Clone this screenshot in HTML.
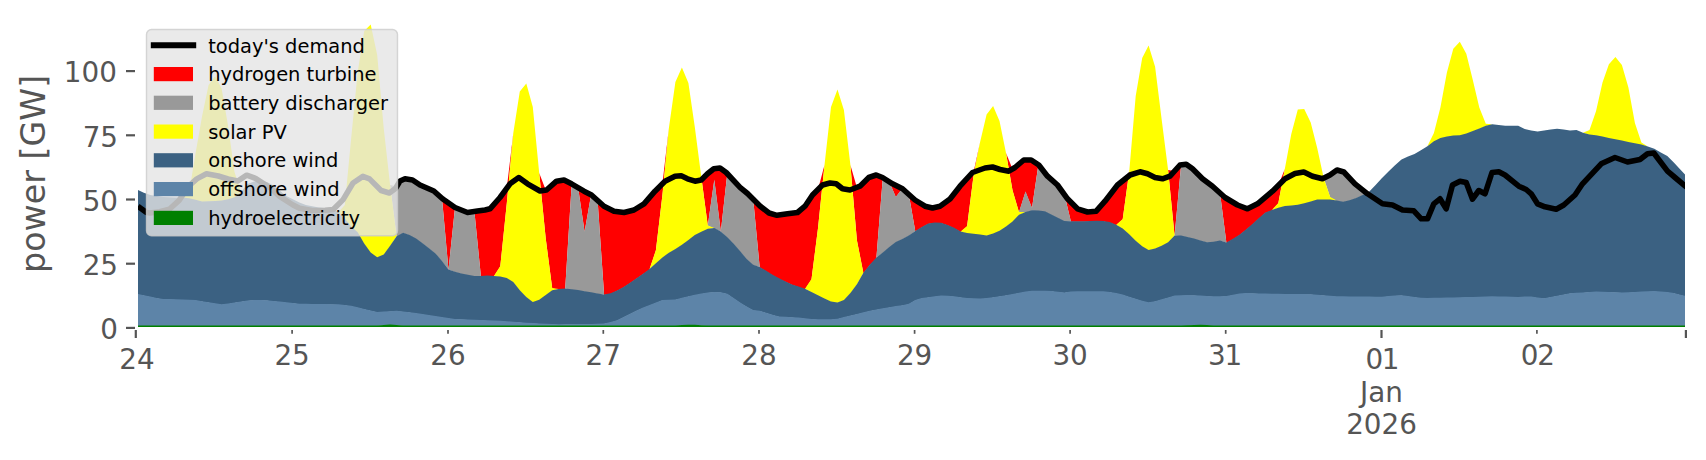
<!DOCTYPE html>
<html><head><meta charset="utf-8"><title>power chart</title>
<style>html,body{margin:0;padding:0;background:#fff;}svg{display:block;}</style></head>
<body>
<svg width="1706" height="460" viewBox="0 0 1706 460" font-family="'DejaVu Sans', 'Liberation Sans', sans-serif">
<rect width="1706" height="460" fill="#fff"/>
<defs><clipPath id="cp"><rect x="137.9" y="0" width="1547.2" height="340"/></clipPath></defs>
<g clip-path="url(#cp)">
<polygon fill="#ff0000" points="442.0,198.3 448.5,202.9 455.0,207.5 455.0,207.5 448.5,270.2 442.0,198.3"/>
<polygon fill="#ff0000" points="474.4,211.5 480.9,210.5 487.4,209.4 493.9,204.4 500.3,197.0 506.8,188.1 513.3,133.0 513.3,133.0 506.8,203.6 500.3,266.6 493.9,276.6 487.4,276.1 480.9,276.5 474.4,211.5"/>
<polygon fill="#ff0000" points="539.2,173.0 545.7,190.1 552.2,185.0 558.7,180.9 565.2,180.6 571.7,183.8 571.7,183.8 565.2,289.2 558.7,289.5 552.2,288.6 545.7,238.6 539.2,173.0"/>
<polygon fill="#ff0000" points="578.1,187.7 584.6,191.6 591.1,194.8 591.1,194.8 584.6,232.0 578.1,187.7"/>
<polygon fill="#ff0000" points="597.6,200.5 604.1,206.3 610.6,209.5 617.0,211.6 623.5,212.4 630.0,211.0 636.5,208.4 643.0,204.4 649.5,197.5 655.9,190.3 662.4,183.8 668.9,128.0 668.9,128.0 662.4,195.6 655.9,250.6 649.5,269.7 643.0,274.3 636.5,278.8 630.0,283.3 623.5,287.6 617.0,291.1 610.6,293.9 604.1,295.0 597.6,200.5"/>
<polygon fill="#ff0000" points="701.3,177.0 707.8,173.5 714.3,168.7 720.8,168.6 727.3,173.6 727.3,173.6 720.8,232.1 714.3,180.0 707.8,226.1 701.3,177.0"/>
<polygon fill="#ff0000" points="753.2,199.2 759.7,205.7 766.2,210.8 772.6,214.0 779.1,215.0 785.6,214.0 792.1,213.2 798.6,211.6 805.0,206.2 811.5,196.5 818.0,189.5 824.5,165.0 824.5,165.0 818.0,228.6 811.5,279.6 805.0,289.4 798.6,287.2 792.1,285.0 785.6,282.1 779.1,278.9 772.6,275.4 766.2,271.4 759.7,267.6 753.2,199.2"/>
<polygon fill="#ff0000" points="850.4,165.0 856.9,187.4 863.4,182.9 869.9,177.1 876.4,175.0 882.8,177.7 882.8,177.7 876.4,258.2 869.9,265.1 863.4,273.4 856.9,240.6 850.4,165.0"/>
<polygon fill="#ff0000" points="889.3,181.8 895.8,185.4 902.3,188.6 902.3,188.6 895.8,197.3 889.3,181.8"/>
<polygon fill="#ff0000" points="908.8,194.4 915.3,200.2 921.7,204.2 928.2,207.0 934.7,207.5 941.2,205.4 947.7,200.7 954.2,193.7 960.6,185.5 967.1,178.4 973.6,172.1 980.1,142.0 980.1,142.0 973.6,175.6 967.1,226.6 960.6,232.1 954.2,228.4 947.7,225.5 941.2,223.3 934.7,223.0 928.2,224.1 921.7,227.5 915.3,231.6 908.8,194.4"/>
<polygon fill="#ff0000" points="1006.0,153.0 1012.5,169.0 1019.0,164.1 1025.5,160.0 1032.0,160.5 1038.4,164.8 1038.4,164.8 1032.0,208.3 1025.5,191.9 1019.0,212.6 1012.5,190.6 1006.0,153.0"/>
<polygon fill="#ff0000" points="1064.4,194.4 1070.9,202.1 1077.3,208.6 1083.8,210.8 1090.3,211.8 1096.8,210.6 1103.3,203.2 1109.8,195.1 1116.2,186.6 1122.7,180.8 1129.2,172.0 1129.2,172.0 1122.7,219.6 1116.2,225.3 1109.8,222.7 1103.3,221.6 1096.8,221.3 1090.3,221.6 1083.8,221.8 1077.3,221.8 1070.9,221.8 1064.4,194.4"/>
<polygon fill="#ff0000" points="1168.1,170.0 1174.6,171.1 1181.1,164.9 1181.1,164.9 1174.6,236.1 1168.1,170.0"/>
<polygon fill="#ff0000" points="1220.0,193.0 1226.4,198.4 1232.9,202.3 1239.4,205.7 1245.9,208.1 1252.4,206.3 1258.9,202.6 1265.3,197.2 1271.8,191.8 1278.3,185.4 1284.8,169.0 1284.8,169.0 1278.3,203.6 1271.8,210.7 1265.3,213.0 1258.9,218.7 1252.4,224.7 1245.9,230.1 1239.4,235.3 1232.9,239.4 1226.4,243.0 1220.0,193.0"/>
<polygon fill="#999999" points="390.1,185.0 396.6,186.6 403.1,179.6 409.6,179.5 416.1,182.4 422.6,186.1 429.0,188.9 435.5,192.6 442.0,198.3 448.5,269.6 448.5,269.6 442.0,261.6 435.5,254.0 429.0,248.8 422.6,243.8 416.1,239.2 409.6,235.6 403.1,233.3 396.6,236.9 390.1,185.0"/>
<polygon fill="#999999" points="448.5,269.6 455.0,207.5 461.4,210.1 467.9,212.4 474.4,211.5 480.9,275.9 480.9,275.9 474.4,276.7 467.9,275.4 461.4,274.1 455.0,272.3 448.5,269.6"/>
<polygon fill="#999999" points="565.2,288.6 571.7,183.8 578.1,187.7 584.6,231.4 591.1,194.8 597.6,200.5 604.1,294.4 604.1,294.4 597.6,294.0 591.1,292.9 584.6,291.8 578.1,290.7 571.7,289.9 565.2,288.6"/>
<polygon fill="#999999" points="707.8,225.5 714.3,179.4 720.8,231.5 720.8,231.5 714.3,228.7 707.8,225.5"/>
<polygon fill="#999999" points="720.8,231.5 727.3,173.6 733.7,180.6 740.2,187.5 746.7,192.8 753.2,199.2 759.7,267.0 759.7,267.0 753.2,265.3 746.7,259.6 740.2,251.9 733.7,244.3 727.3,237.9 720.8,231.5"/>
<polygon fill="#999999" points="876.4,257.6 882.8,177.7 889.3,181.8 895.8,196.7 902.3,188.6 908.8,194.4 915.3,231.0 915.3,231.0 908.8,236.0 902.3,239.5 895.8,242.7 889.3,247.7 882.8,253.0 876.4,257.6"/>
<polygon fill="#999999" points="1019.0,212.0 1025.5,191.3 1032.0,207.7 1038.4,164.8 1044.9,172.9 1051.4,179.7 1057.9,185.5 1064.4,194.4 1070.9,221.2 1070.9,221.2 1064.4,221.5 1057.9,218.3 1051.4,215.1 1044.9,211.8 1038.4,211.2 1032.0,210.8 1025.5,212.7 1019.0,212.0"/>
<polygon fill="#999999" points="1174.6,235.5 1181.1,164.9 1187.5,165.2 1194.0,170.3 1200.5,176.8 1207.0,182.1 1213.5,187.1 1220.0,193.0 1226.4,242.4 1226.4,242.4 1220.0,241.0 1213.5,242.4 1207.0,242.8 1200.5,241.0 1194.0,239.2 1187.5,237.5 1181.1,236.2 1174.6,235.5"/>
<polygon fill="#999999" points="1323.7,178.0 1330.2,174.9 1336.7,170.2 1343.1,171.8 1349.6,178.1 1356.1,184.6 1362.6,189.8 1369.1,191.7 1369.1,191.7 1362.6,195.6 1356.1,198.6 1349.6,200.9 1343.1,202.3 1336.7,201.2 1330.2,197.6 1323.7,178.0"/>
<polygon fill="#ffff00" points="182.7,197.5 189.2,192.0 195.6,153.0 202.1,116.0 208.6,85.0 215.1,76.3 221.6,88.5 228.1,126.0 234.5,172.0 241.0,191.9 241.0,191.9 234.5,197.8 228.1,199.8 221.6,201.1 215.1,201.5 208.6,201.8 202.1,202.0 195.6,200.4 189.2,198.9 182.7,197.5"/>
<polygon fill="#ffff00" points="338.3,212.2 344.8,205.0 351.2,138.0 357.7,72.0 364.2,31.0 370.7,24.5 377.2,55.0 383.7,128.0 390.1,185.0 396.6,236.3 396.6,236.3 390.1,246.4 383.7,255.1 377.2,257.9 370.7,253.2 364.2,244.2 357.7,232.9 351.2,227.0 344.8,219.2 338.3,212.2"/>
<polygon fill="#ffff00" points="493.9,276.0 500.3,266.0 506.8,203.0 513.3,133.0 519.8,91.5 526.3,83.5 532.8,107.0 539.2,173.0 545.7,238.0 552.2,288.0 558.7,288.9 558.7,288.9 552.2,290.8 545.7,295.7 539.2,300.4 532.8,302.5 526.3,297.5 519.8,290.9 513.3,282.6 506.8,278.6 500.3,277.2 493.9,276.0"/>
<polygon fill="#ffff00" points="649.5,269.1 655.9,250.0 662.4,195.0 668.9,128.0 675.4,82.0 681.9,67.5 688.4,83.0 694.8,127.0 701.3,177.0 707.8,225.5 714.3,228.1 714.3,228.1 707.8,229.3 701.3,232.4 694.8,235.7 688.4,240.6 681.9,245.4 675.4,249.5 668.9,253.3 662.4,258.0 655.9,263.9 649.5,269.1"/>
<polygon fill="#ffff00" points="805.0,288.8 811.5,279.0 818.0,228.0 824.5,165.0 831.0,107.0 837.5,89.5 843.9,110.0 850.4,165.0 856.9,240.0 863.4,272.8 863.4,272.8 856.9,284.8 850.4,293.6 843.9,300.5 837.5,303.1 831.0,302.0 824.5,299.1 818.0,295.9 811.5,292.6 805.0,288.8"/>
<polygon fill="#ffff00" points="960.6,231.5 967.1,226.0 973.6,175.0 980.1,142.0 986.6,114.5 993.1,106.0 999.5,121.0 1006.0,153.0 1012.5,190.0 1019.0,212.0 1025.5,212.1 1025.5,212.1 1019.0,215.4 1012.5,222.0 1006.0,227.1 999.5,231.3 993.1,234.2 986.6,236.0 980.1,235.2 973.6,234.4 967.1,233.7 960.6,231.5"/>
<polygon fill="#ffff00" points="1116.2,224.7 1122.7,219.0 1129.2,172.0 1135.7,96.0 1142.2,58.0 1148.6,45.5 1155.1,66.8 1161.6,119.0 1168.1,170.0 1174.6,235.5 1174.6,235.5 1168.1,242.9 1161.6,246.4 1155.1,249.1 1148.6,250.5 1142.2,246.8 1135.7,241.3 1129.2,234.8 1122.7,229.2 1116.2,224.7"/>
<polygon fill="#ffff00" points="1271.8,210.1 1278.3,203.0 1284.8,169.0 1291.3,134.0 1297.8,109.5 1304.2,109.0 1310.7,122.5 1317.2,148.0 1323.7,178.0 1330.2,197.0 1336.7,200.6 1336.7,200.6 1330.2,200.1 1323.7,200.1 1317.2,200.2 1310.7,202.0 1304.2,203.9 1297.8,205.3 1291.3,206.0 1284.8,206.6 1278.3,208.3 1271.8,210.1"/>
<polygon fill="#ffff00" points="1427.4,146.3 1433.9,133.0 1440.4,107.5 1446.9,72.5 1453.3,48.8 1459.8,41.8 1466.3,53.8 1472.8,80.0 1479.3,107.5 1485.8,123.8 1492.2,124.2 1492.2,124.2 1485.8,126.3 1479.3,129.0 1472.8,131.7 1466.3,134.2 1459.8,135.9 1453.3,136.1 1446.9,137.0 1440.4,138.7 1433.9,141.9 1427.4,146.3"/>
<polygon fill="#ffff00" points="1583.0,132.7 1589.5,130.0 1596.0,111.2 1602.5,82.5 1608.9,64.2 1615.4,57.0 1621.9,65.0 1628.4,87.5 1634.9,123.0 1641.4,142.5 1647.8,146.6 1647.8,146.6 1641.4,145.2 1634.9,143.9 1628.4,142.5 1621.9,141.2 1615.4,139.9 1608.9,138.5 1602.5,137.2 1596.0,135.8 1589.5,135.0 1583.0,132.7"/>
<polygon fill="#3b6182" points="137.3,189.6 143.8,192.8 150.3,194.9 156.7,196.0 163.2,197.1 169.7,197.2 176.2,197.4 182.7,197.5 189.2,198.3 195.6,199.8 202.1,201.4 208.6,201.2 215.1,200.9 221.6,200.5 228.1,199.2 234.5,197.2 241.0,191.9 247.5,183.9 254.0,181.6 260.5,180.8 267.0,182.0 273.4,185.5 279.9,190.7 286.4,195.9 292.9,199.3 299.4,202.5 305.9,205.0 312.3,206.3 318.8,207.6 325.3,207.9 331.8,208.1 338.3,212.2 344.8,218.6 351.2,226.4 357.7,232.3 364.2,243.6 370.7,252.6 377.2,257.3 383.7,254.5 390.1,245.8 396.6,236.3 403.1,232.7 409.6,235.0 416.1,238.6 422.6,243.2 429.0,248.2 435.5,253.4 442.0,261.0 448.5,269.6 455.0,271.7 461.4,273.5 467.9,274.8 474.4,276.1 480.9,275.9 487.4,275.5 493.9,276.0 500.3,276.6 506.8,278.0 513.3,282.0 519.8,290.3 526.3,296.9 532.8,301.9 539.2,299.8 545.7,295.1 552.2,290.2 558.7,288.9 565.2,288.6 571.7,289.3 578.1,290.1 584.6,291.2 591.1,292.3 597.6,293.4 604.1,294.4 610.6,293.3 617.0,290.5 623.5,287.0 630.0,282.7 636.5,278.2 643.0,273.7 649.5,269.1 655.9,263.3 662.4,257.4 668.9,252.7 675.4,248.9 681.9,244.8 688.4,240.0 694.8,235.1 701.3,231.8 707.8,228.7 714.3,228.1 720.8,231.5 727.3,237.3 733.7,243.7 740.2,251.3 746.7,259.0 753.2,264.7 759.7,267.0 766.2,270.8 772.6,274.8 779.1,278.3 785.6,281.5 792.1,284.4 798.6,286.6 805.0,288.8 811.5,292.0 818.0,295.3 824.5,298.5 831.0,301.4 837.5,302.5 843.9,299.9 850.4,293.0 856.9,284.2 863.4,272.8 869.9,264.5 876.4,257.6 882.8,252.4 889.3,247.1 895.8,242.1 902.3,238.9 908.8,235.4 915.3,231.0 921.7,226.9 928.2,223.5 934.7,222.4 941.2,222.7 947.7,224.9 954.2,227.8 960.6,231.5 967.1,233.1 973.6,233.8 980.1,234.6 986.6,235.4 993.1,233.6 999.5,230.7 1006.0,226.5 1012.5,221.4 1019.0,214.8 1025.5,212.1 1032.0,210.2 1038.4,210.6 1044.9,211.2 1051.4,214.5 1057.9,217.7 1064.4,220.9 1070.9,221.2 1077.3,221.2 1083.8,221.2 1090.3,221.0 1096.8,220.7 1103.3,221.0 1109.8,222.1 1116.2,224.7 1122.7,228.6 1129.2,234.2 1135.7,240.7 1142.2,246.2 1148.6,249.9 1155.1,248.5 1161.6,245.8 1168.1,242.3 1174.6,235.5 1181.1,235.6 1187.5,236.9 1194.0,238.6 1200.5,240.4 1207.0,242.2 1213.5,241.8 1220.0,240.4 1226.4,242.4 1232.9,238.8 1239.4,234.7 1245.9,229.5 1252.4,224.1 1258.9,218.1 1265.3,212.4 1271.8,210.1 1278.3,207.7 1284.8,206.0 1291.3,205.4 1297.8,204.7 1304.2,203.3 1310.7,201.4 1317.2,199.6 1323.7,199.5 1330.2,199.5 1336.7,200.6 1343.1,201.7 1349.6,200.3 1356.1,198.0 1362.6,195.0 1369.1,191.7 1375.6,185.1 1382.0,178.0 1388.5,171.5 1395.0,165.3 1401.5,159.6 1408.0,156.6 1414.5,154.0 1420.9,150.2 1427.4,146.3 1433.9,141.3 1440.4,138.1 1446.9,136.4 1453.3,135.5 1459.8,135.3 1466.3,133.6 1472.8,131.1 1479.3,128.4 1485.8,125.7 1492.2,124.2 1498.7,125.0 1505.2,125.8 1511.7,125.8 1518.2,125.8 1524.7,128.9 1531.1,130.4 1537.6,131.6 1544.1,130.5 1550.6,129.5 1557.1,128.8 1563.6,129.6 1570.0,130.5 1576.5,130.1 1583.0,132.7 1589.5,134.4 1596.0,135.2 1602.5,136.6 1608.9,137.9 1615.4,139.3 1621.9,140.6 1628.4,141.9 1634.9,143.3 1641.4,144.6 1647.8,146.6 1654.3,148.7 1660.8,152.6 1667.3,156.1 1673.8,162.5 1680.3,169.5 1686.7,176.2 1686.7,296.9 1680.3,295.3 1673.8,293.5 1667.3,292.7 1660.8,292.2 1654.3,291.7 1647.8,291.9 1641.4,292.2 1634.9,292.6 1628.4,292.9 1621.9,293.0 1615.4,292.8 1608.9,292.5 1602.5,292.3 1596.0,292.2 1589.5,292.6 1583.0,293.0 1576.5,293.4 1570.0,293.8 1563.6,295.1 1557.1,296.3 1550.6,297.6 1544.1,298.8 1537.6,298.2 1531.1,297.1 1524.7,297.2 1518.2,297.6 1511.7,297.4 1505.2,297.2 1498.7,297.0 1492.2,296.9 1485.8,297.1 1479.3,297.3 1472.8,297.5 1466.3,297.7 1459.8,297.9 1453.3,298.1 1446.9,298.2 1440.4,298.3 1433.9,298.4 1427.4,298.5 1420.9,298.4 1414.5,297.5 1408.0,296.7 1401.5,295.8 1395.0,296.1 1388.5,296.7 1382.0,297.3 1375.6,297.3 1369.1,297.2 1362.6,297.1 1356.1,297.1 1349.6,297.0 1343.1,296.9 1336.7,296.9 1330.2,296.4 1323.7,295.8 1317.2,295.3 1310.7,294.8 1304.2,294.7 1297.8,294.7 1291.3,294.6 1284.8,294.5 1278.3,294.4 1271.8,294.3 1265.3,294.1 1258.9,294.0 1252.4,293.8 1245.9,293.7 1239.4,294.2 1232.9,295.4 1226.4,296.6 1220.0,296.9 1213.5,296.9 1207.0,296.5 1200.5,296.2 1194.0,295.8 1187.5,295.7 1181.1,295.9 1174.6,296.2 1168.1,298.1 1161.6,299.9 1155.1,301.8 1148.6,302.9 1142.2,301.4 1135.7,299.3 1129.2,297.3 1122.7,295.2 1116.2,293.7 1109.8,292.6 1103.3,291.9 1096.8,291.9 1090.3,291.9 1083.8,291.9 1077.3,291.9 1070.9,292.1 1064.4,293.0 1057.9,292.4 1051.4,291.5 1044.9,291.4 1038.4,291.4 1032.0,291.4 1025.5,292.2 1019.0,293.4 1012.5,294.7 1006.0,295.8 999.5,296.8 993.1,297.8 986.6,298.7 980.1,299.2 973.6,298.9 967.1,298.7 960.6,297.8 954.2,296.9 947.7,296.3 941.2,296.1 934.7,296.9 928.2,297.8 921.7,298.7 915.3,300.6 908.8,304.4 902.3,305.8 895.8,306.7 889.3,307.8 882.8,308.9 876.4,310.0 869.9,311.3 863.4,312.9 856.9,314.5 850.4,316.1 843.9,317.7 837.5,319.3 831.0,319.9 824.5,319.9 818.0,319.9 811.5,319.5 805.0,318.9 798.6,318.2 792.1,317.8 785.6,317.4 779.1,317.0 772.6,315.3 766.2,313.3 759.7,311.3 753.2,310.7 746.7,307.1 740.2,303.2 733.7,298.7 727.3,294.3 720.8,292.8 714.3,292.6 707.8,293.0 701.3,294.2 694.8,295.4 688.4,296.8 681.9,298.4 675.4,300.0 668.9,300.3 662.4,300.6 655.9,303.2 649.5,305.7 643.0,308.2 636.5,311.1 630.0,314.3 623.5,317.6 617.0,320.8 610.6,322.7 604.1,324.0 597.6,324.4 591.1,324.5 584.6,324.6 578.1,324.7 571.7,324.8 565.2,324.8 558.7,324.9 552.2,324.7 545.7,324.4 539.2,324.0 532.8,323.7 526.3,323.3 519.8,322.8 513.3,322.3 506.8,321.9 500.3,321.4 493.9,321.1 487.4,320.9 480.9,320.6 474.4,320.3 467.9,320.1 461.4,319.8 455.0,319.5 448.5,318.7 442.0,317.7 435.5,316.7 429.0,315.7 422.6,314.7 416.1,313.7 409.6,312.8 403.1,312.0 396.6,311.4 390.1,311.8 383.7,312.2 377.2,312.5 370.7,311.0 364.2,309.5 357.7,307.9 351.2,306.4 344.8,305.6 338.3,304.9 331.8,304.8 325.3,304.7 318.8,304.6 312.3,304.5 305.9,304.4 299.4,304.3 292.9,303.6 286.4,302.9 279.9,302.2 273.4,301.5 267.0,300.8 260.5,300.6 254.0,300.6 247.5,301.0 241.0,302.1 234.5,303.1 228.1,304.2 221.6,304.9 215.1,303.9 208.6,302.8 202.1,301.8 195.6,300.7 189.2,300.4 182.7,300.2 176.2,299.9 169.7,299.7 163.2,299.5 156.7,298.6 150.3,297.2 143.8,295.8 137.3,294.5"/>
<polygon fill="#5d84a8" points="137.3,293.9 143.8,295.2 150.3,296.6 156.7,298.0 163.2,298.9 169.7,299.1 176.2,299.3 182.7,299.6 189.2,299.8 195.6,300.1 202.1,301.2 208.6,302.2 215.1,303.3 221.6,304.3 228.1,303.6 234.5,302.5 241.0,301.5 247.5,300.4 254.0,300.0 260.5,300.0 267.0,300.2 273.4,300.9 279.9,301.6 286.4,302.3 292.9,303.0 299.4,303.7 305.9,303.8 312.3,303.9 318.8,304.0 325.3,304.1 331.8,304.2 338.3,304.3 344.8,305.0 351.2,305.8 357.7,307.3 364.2,308.9 370.7,310.4 377.2,311.9 383.7,311.6 390.1,311.2 396.6,310.8 403.1,311.4 409.6,312.2 416.1,313.1 422.6,314.1 429.0,315.1 435.5,316.1 442.0,317.1 448.5,318.1 455.0,318.9 461.4,319.2 467.9,319.5 474.4,319.7 480.9,320.0 487.4,320.3 493.9,320.5 500.3,320.8 506.8,321.3 513.3,321.7 519.8,322.2 526.3,322.7 532.8,323.1 539.2,323.4 545.7,323.8 552.2,324.1 558.7,324.2 565.2,324.2 571.7,324.2 578.1,324.1 584.6,324.0 591.1,323.9 597.6,323.8 604.1,323.4 610.6,322.1 617.0,320.2 623.5,317.0 630.0,313.7 636.5,310.5 643.0,307.6 649.5,305.1 655.9,302.6 662.4,300.0 668.9,299.7 675.4,299.4 681.9,297.8 688.4,296.2 694.8,294.8 701.3,293.6 707.8,292.4 714.3,292.0 720.8,292.2 727.3,293.7 733.7,298.1 740.2,302.6 746.7,306.5 753.2,310.1 759.7,310.7 766.2,312.7 772.6,314.7 779.1,316.4 785.6,316.8 792.1,317.2 798.6,317.6 805.0,318.3 811.5,318.9 818.0,319.2 824.5,319.2 831.0,319.2 837.5,318.7 843.9,317.1 850.4,315.5 856.9,313.9 863.4,312.3 869.9,310.7 876.4,309.4 882.8,308.3 889.3,307.2 895.8,306.1 902.3,305.2 908.8,303.8 915.3,300.0 921.7,298.1 928.2,297.2 934.7,296.3 941.2,295.5 947.7,295.7 954.2,296.3 960.6,297.2 967.1,298.1 973.6,298.3 980.1,298.6 986.6,298.1 993.1,297.2 999.5,296.2 1006.0,295.2 1012.5,294.1 1019.0,292.8 1025.5,291.6 1032.0,290.8 1038.4,290.8 1044.9,290.8 1051.4,290.9 1057.9,291.8 1064.4,292.4 1070.9,291.5 1077.3,291.2 1083.8,291.2 1090.3,291.2 1096.8,291.2 1103.3,291.2 1109.8,292.0 1116.2,293.1 1122.7,294.6 1129.2,296.7 1135.7,298.7 1142.2,300.8 1148.6,302.3 1155.1,301.2 1161.6,299.3 1168.1,297.5 1174.6,295.6 1181.1,295.3 1187.5,295.1 1194.0,295.2 1200.5,295.6 1207.0,295.9 1213.5,296.2 1220.0,296.2 1226.4,296.0 1232.9,294.8 1239.4,293.6 1245.9,293.1 1252.4,293.2 1258.9,293.4 1265.3,293.5 1271.8,293.7 1278.3,293.8 1284.8,293.9 1291.3,294.0 1297.8,294.1 1304.2,294.1 1310.7,294.2 1317.2,294.7 1323.7,295.2 1330.2,295.8 1336.7,296.3 1343.1,296.3 1349.6,296.4 1356.1,296.5 1362.6,296.5 1369.1,296.6 1375.6,296.7 1382.0,296.7 1388.5,296.1 1395.0,295.5 1401.5,295.2 1408.0,296.1 1414.5,296.9 1420.9,297.8 1427.4,297.9 1433.9,297.8 1440.4,297.7 1446.9,297.6 1453.3,297.5 1459.8,297.3 1466.3,297.1 1472.8,296.9 1479.3,296.7 1485.8,296.5 1492.2,296.3 1498.7,296.4 1505.2,296.6 1511.7,296.8 1518.2,297.0 1524.7,296.6 1531.1,296.5 1537.6,297.6 1544.1,298.2 1550.6,297.0 1557.1,295.7 1563.6,294.5 1570.0,293.2 1576.5,292.8 1583.0,292.4 1589.5,292.0 1596.0,291.6 1602.5,291.7 1608.9,291.9 1615.4,292.2 1621.9,292.4 1628.4,292.3 1634.9,292.0 1641.4,291.6 1647.8,291.3 1654.3,291.1 1660.8,291.6 1667.3,292.1 1673.8,292.9 1680.3,294.7 1686.7,296.2 1686.7,326.1 1680.3,326.1 1673.8,326.1 1667.3,326.1 1660.8,326.1 1654.3,326.1 1647.8,326.1 1641.4,326.1 1634.9,326.1 1628.4,326.1 1621.9,326.1 1615.4,326.1 1608.9,326.1 1602.5,326.1 1596.0,326.1 1589.5,326.1 1583.0,326.1 1576.5,326.1 1570.0,326.1 1563.6,326.1 1557.1,326.1 1550.6,326.1 1544.1,326.1 1537.6,326.1 1531.1,326.1 1524.7,326.1 1518.2,326.1 1511.7,326.1 1505.2,326.1 1498.7,326.1 1492.2,326.1 1485.8,326.1 1479.3,326.1 1472.8,326.1 1466.3,326.1 1459.8,326.1 1453.3,326.1 1446.9,326.1 1440.4,326.1 1433.9,326.1 1427.4,326.1 1420.9,326.1 1414.5,326.1 1408.0,326.1 1401.5,326.1 1395.0,326.1 1388.5,326.1 1382.0,326.1 1375.6,326.1 1369.1,326.1 1362.6,326.1 1356.1,326.1 1349.6,326.1 1343.1,326.1 1336.7,326.1 1330.2,326.1 1323.7,326.1 1317.2,326.1 1310.7,326.1 1304.2,326.1 1297.8,326.1 1291.3,326.1 1284.8,326.1 1278.3,326.1 1271.8,326.1 1265.3,326.1 1258.9,326.1 1252.4,326.1 1245.9,326.1 1239.4,326.1 1232.9,326.1 1226.4,326.1 1220.0,326.1 1213.5,326.1 1207.0,325.7 1200.5,325.3 1194.0,325.5 1187.5,325.9 1181.1,326.1 1174.6,326.1 1168.1,326.1 1161.6,326.1 1155.1,326.1 1148.6,326.1 1142.2,326.1 1135.7,326.1 1129.2,326.1 1122.7,326.1 1116.2,326.1 1109.8,326.1 1103.3,326.1 1096.8,326.1 1090.3,326.1 1083.8,326.1 1077.3,326.1 1070.9,326.1 1064.4,326.1 1057.9,326.1 1051.4,326.1 1044.9,326.1 1038.4,326.1 1032.0,326.1 1025.5,326.1 1019.0,326.1 1012.5,326.1 1006.0,326.1 999.5,326.1 993.1,326.1 986.6,326.1 980.1,326.1 973.6,326.1 967.1,326.1 960.6,326.1 954.2,326.1 947.7,326.1 941.2,326.1 934.7,326.1 928.2,326.1 921.7,326.1 915.3,326.1 908.8,326.1 902.3,326.1 895.8,326.1 889.3,326.1 882.8,326.1 876.4,326.1 869.9,326.1 863.4,326.1 856.9,326.1 850.4,326.1 843.9,326.1 837.5,326.1 831.0,326.1 824.5,326.1 818.0,326.1 811.5,326.1 805.0,326.1 798.6,326.1 792.1,326.1 785.6,326.1 779.1,326.1 772.6,326.1 766.2,326.1 759.7,326.1 753.2,326.1 746.7,326.1 740.2,326.1 733.7,326.1 727.3,326.1 720.8,326.1 714.3,326.1 707.8,326.1 701.3,325.8 694.8,325.4 688.4,325.3 681.9,325.7 675.4,326.1 668.9,326.1 662.4,326.1 655.9,326.1 649.5,326.1 643.0,326.1 636.5,326.1 630.0,326.1 623.5,326.1 617.0,326.1 610.6,326.1 604.1,326.1 597.6,326.1 591.1,326.1 584.6,326.1 578.1,326.1 571.7,326.1 565.2,326.1 558.7,326.1 552.2,326.1 545.7,326.1 539.2,326.1 532.8,326.1 526.3,326.1 519.8,326.1 513.3,326.1 506.8,326.1 500.3,326.1 493.9,326.1 487.4,326.1 480.9,326.1 474.4,326.1 467.9,326.1 461.4,326.1 455.0,326.1 448.5,326.1 442.0,326.1 435.5,326.1 429.0,326.1 422.6,326.1 416.1,326.1 409.6,326.1 403.1,326.0 396.6,325.6 390.1,325.2 383.7,325.6 377.2,326.0 370.7,326.1 364.2,326.1 357.7,326.1 351.2,326.1 344.8,326.1 338.3,326.1 331.8,326.1 325.3,326.1 318.8,326.1 312.3,326.1 305.9,326.1 299.4,326.1 292.9,326.1 286.4,326.1 279.9,326.1 273.4,326.1 267.0,326.1 260.5,326.1 254.0,326.1 247.5,326.1 241.0,326.1 234.5,326.1 228.1,326.1 221.6,326.1 215.1,326.1 208.6,326.1 202.1,326.1 195.6,326.1 189.2,326.1 182.7,326.1 176.2,326.1 169.7,326.1 163.2,326.1 156.7,326.1 150.3,326.1 143.8,326.1 137.3,326.1"/>
<polygon fill="#008000" points="137.3,325.4 143.8,325.4 150.3,325.4 156.7,325.4 163.2,325.4 169.7,325.4 176.2,325.4 182.7,325.4 189.2,325.4 195.6,325.4 202.1,325.4 208.6,325.4 215.1,325.4 221.6,325.4 228.1,325.4 234.5,325.4 241.0,325.4 247.5,325.4 254.0,325.4 260.5,325.4 267.0,325.4 273.4,325.4 279.9,325.4 286.4,325.4 292.9,325.4 299.4,325.4 305.9,325.4 312.3,325.4 318.8,325.4 325.3,325.4 331.8,325.4 338.3,325.4 344.8,325.4 351.2,325.4 357.7,325.4 364.2,325.4 370.7,325.4 377.2,325.4 383.7,325.0 390.1,324.6 396.6,325.0 403.1,325.4 409.6,325.4 416.1,325.4 422.6,325.4 429.0,325.4 435.5,325.4 442.0,325.4 448.5,325.4 455.0,325.4 461.4,325.4 467.9,325.4 474.4,325.4 480.9,325.4 487.4,325.4 493.9,325.4 500.3,325.4 506.8,325.4 513.3,325.4 519.8,325.4 526.3,325.4 532.8,325.4 539.2,325.4 545.7,325.4 552.2,325.4 558.7,325.4 565.2,325.4 571.7,325.4 578.1,325.4 584.6,325.4 591.1,325.4 597.6,325.4 604.1,325.4 610.6,325.4 617.0,325.4 623.5,325.4 630.0,325.4 636.5,325.4 643.0,325.4 649.5,325.4 655.9,325.4 662.4,325.4 668.9,325.4 675.4,325.4 681.9,325.1 688.4,324.7 694.8,324.8 701.3,325.2 707.8,325.4 714.3,325.4 720.8,325.4 727.3,325.4 733.7,325.4 740.2,325.4 746.7,325.4 753.2,325.4 759.7,325.4 766.2,325.4 772.6,325.4 779.1,325.4 785.6,325.4 792.1,325.4 798.6,325.4 805.0,325.4 811.5,325.4 818.0,325.4 824.5,325.4 831.0,325.4 837.5,325.4 843.9,325.4 850.4,325.4 856.9,325.4 863.4,325.4 869.9,325.4 876.4,325.4 882.8,325.4 889.3,325.4 895.8,325.4 902.3,325.4 908.8,325.4 915.3,325.4 921.7,325.4 928.2,325.4 934.7,325.4 941.2,325.4 947.7,325.4 954.2,325.4 960.6,325.4 967.1,325.4 973.6,325.4 980.1,325.4 986.6,325.4 993.1,325.4 999.5,325.4 1006.0,325.4 1012.5,325.4 1019.0,325.4 1025.5,325.4 1032.0,325.4 1038.4,325.4 1044.9,325.4 1051.4,325.4 1057.9,325.4 1064.4,325.4 1070.9,325.4 1077.3,325.4 1083.8,325.4 1090.3,325.4 1096.8,325.4 1103.3,325.4 1109.8,325.4 1116.2,325.4 1122.7,325.4 1129.2,325.4 1135.7,325.4 1142.2,325.4 1148.6,325.4 1155.1,325.4 1161.6,325.4 1168.1,325.4 1174.6,325.4 1181.1,325.4 1187.5,325.3 1194.0,324.9 1200.5,324.7 1207.0,325.1 1213.5,325.4 1220.0,325.4 1226.4,325.4 1232.9,325.4 1239.4,325.4 1245.9,325.4 1252.4,325.4 1258.9,325.4 1265.3,325.4 1271.8,325.4 1278.3,325.4 1284.8,325.4 1291.3,325.4 1297.8,325.4 1304.2,325.4 1310.7,325.4 1317.2,325.4 1323.7,325.4 1330.2,325.4 1336.7,325.4 1343.1,325.4 1349.6,325.4 1356.1,325.4 1362.6,325.4 1369.1,325.4 1375.6,325.4 1382.0,325.4 1388.5,325.4 1395.0,325.4 1401.5,325.4 1408.0,325.4 1414.5,325.4 1420.9,325.4 1427.4,325.4 1433.9,325.4 1440.4,325.4 1446.9,325.4 1453.3,325.4 1459.8,325.4 1466.3,325.4 1472.8,325.4 1479.3,325.4 1485.8,325.4 1492.2,325.4 1498.7,325.4 1505.2,325.4 1511.7,325.4 1518.2,325.4 1524.7,325.4 1531.1,325.4 1537.6,325.4 1544.1,325.4 1550.6,325.4 1557.1,325.4 1563.6,325.4 1570.0,325.4 1576.5,325.4 1583.0,325.4 1589.5,325.4 1596.0,325.4 1602.5,325.4 1608.9,325.4 1615.4,325.4 1621.9,325.4 1628.4,325.4 1634.9,325.4 1641.4,325.4 1647.8,325.4 1654.3,325.4 1660.8,325.4 1667.3,325.4 1673.8,325.4 1680.3,325.4 1686.7,325.4 1686.7,327.1 1680.3,327.1 1673.8,327.1 1667.3,327.1 1660.8,327.1 1654.3,327.1 1647.8,327.1 1641.4,327.1 1634.9,327.1 1628.4,327.1 1621.9,327.1 1615.4,327.1 1608.9,327.1 1602.5,327.1 1596.0,327.1 1589.5,327.1 1583.0,327.1 1576.5,327.1 1570.0,327.1 1563.6,327.1 1557.1,327.1 1550.6,327.1 1544.1,327.1 1537.6,327.1 1531.1,327.1 1524.7,327.1 1518.2,327.1 1511.7,327.1 1505.2,327.1 1498.7,327.1 1492.2,327.1 1485.8,327.1 1479.3,327.1 1472.8,327.1 1466.3,327.1 1459.8,327.1 1453.3,327.1 1446.9,327.1 1440.4,327.1 1433.9,327.1 1427.4,327.1 1420.9,327.1 1414.5,327.1 1408.0,327.1 1401.5,327.1 1395.0,327.1 1388.5,327.1 1382.0,327.1 1375.6,327.1 1369.1,327.1 1362.6,327.1 1356.1,327.1 1349.6,327.1 1343.1,327.1 1336.7,327.1 1330.2,327.1 1323.7,327.1 1317.2,327.1 1310.7,327.1 1304.2,327.1 1297.8,327.1 1291.3,327.1 1284.8,327.1 1278.3,327.1 1271.8,327.1 1265.3,327.1 1258.9,327.1 1252.4,327.1 1245.9,327.1 1239.4,327.1 1232.9,327.1 1226.4,327.1 1220.0,327.1 1213.5,327.1 1207.0,327.1 1200.5,327.1 1194.0,327.1 1187.5,327.1 1181.1,327.1 1174.6,327.1 1168.1,327.1 1161.6,327.1 1155.1,327.1 1148.6,327.1 1142.2,327.1 1135.7,327.1 1129.2,327.1 1122.7,327.1 1116.2,327.1 1109.8,327.1 1103.3,327.1 1096.8,327.1 1090.3,327.1 1083.8,327.1 1077.3,327.1 1070.9,327.1 1064.4,327.1 1057.9,327.1 1051.4,327.1 1044.9,327.1 1038.4,327.1 1032.0,327.1 1025.5,327.1 1019.0,327.1 1012.5,327.1 1006.0,327.1 999.5,327.1 993.1,327.1 986.6,327.1 980.1,327.1 973.6,327.1 967.1,327.1 960.6,327.1 954.2,327.1 947.7,327.1 941.2,327.1 934.7,327.1 928.2,327.1 921.7,327.1 915.3,327.1 908.8,327.1 902.3,327.1 895.8,327.1 889.3,327.1 882.8,327.1 876.4,327.1 869.9,327.1 863.4,327.1 856.9,327.1 850.4,327.1 843.9,327.1 837.5,327.1 831.0,327.1 824.5,327.1 818.0,327.1 811.5,327.1 805.0,327.1 798.6,327.1 792.1,327.1 785.6,327.1 779.1,327.1 772.6,327.1 766.2,327.1 759.7,327.1 753.2,327.1 746.7,327.1 740.2,327.1 733.7,327.1 727.3,327.1 720.8,327.1 714.3,327.1 707.8,327.1 701.3,327.1 694.8,327.1 688.4,327.1 681.9,327.1 675.4,327.1 668.9,327.1 662.4,327.1 655.9,327.1 649.5,327.1 643.0,327.1 636.5,327.1 630.0,327.1 623.5,327.1 617.0,327.1 610.6,327.1 604.1,327.1 597.6,327.1 591.1,327.1 584.6,327.1 578.1,327.1 571.7,327.1 565.2,327.1 558.7,327.1 552.2,327.1 545.7,327.1 539.2,327.1 532.8,327.1 526.3,327.1 519.8,327.1 513.3,327.1 506.8,327.1 500.3,327.1 493.9,327.1 487.4,327.1 480.9,327.1 474.4,327.1 467.9,327.1 461.4,327.1 455.0,327.1 448.5,327.1 442.0,327.1 435.5,327.1 429.0,327.1 422.6,327.1 416.1,327.1 409.6,327.1 403.1,327.1 396.6,327.1 390.1,327.1 383.7,327.1 377.2,327.1 370.7,327.1 364.2,327.1 357.7,327.1 351.2,327.1 344.8,327.1 338.3,327.1 331.8,327.1 325.3,327.1 318.8,327.1 312.3,327.1 305.9,327.1 299.4,327.1 292.9,327.1 286.4,327.1 279.9,327.1 273.4,327.1 267.0,327.1 260.5,327.1 254.0,327.1 247.5,327.1 241.0,327.1 234.5,327.1 228.1,327.1 221.6,327.1 215.1,327.1 208.6,327.1 202.1,327.1 195.6,327.1 189.2,327.1 182.7,327.1 176.2,327.1 169.7,327.1 163.2,327.1 156.7,327.1 150.3,327.1 143.8,327.1 137.3,327.1"/>
<polyline fill="none" stroke="#000" stroke-width="5.56" stroke-linejoin="round" stroke-linecap="butt" points="137.9,206.3 146.5,212.6 149.8,213.0 159.6,211.8 169.4,209.2 179.1,200.4 188.9,186.0 196.8,178.9 206.5,173.8 218.3,176.0 228.0,179.0 237.8,181.0 246.7,175.2 255.5,178.3 270.4,188.0 280.0,196.7 293.0,205.0 299.5,208.3 312.0,210.5 325.0,210.2 333.2,209.5 343.1,199.6 353.0,183.0 362.9,176.4 369.5,178.9 381.1,190.5 389.3,193.0 395.5,188.5 400.0,181.0 405.0,178.8 412.5,180.0 420.0,185.0 433.8,191.0 442.5,198.8 455.0,207.5 467.5,212.5 477.5,211.0 485.0,210.0 490.0,208.8 500.0,197.5 510.0,183.8 518.8,177.5 527.5,183.8 540.0,191.0 546.5,190.0 556.5,181.2 564.0,180.0 571.5,183.8 584.0,191.2 591.5,195.0 604.0,206.2 614.0,211.2 624.0,212.5 634.0,210.0 644.0,203.8 655.0,191.2 665.0,181.2 675.0,176.2 681.2,175.8 687.5,178.8 695.0,181.2 701.2,180.0 707.5,173.8 713.8,168.8 720.0,168.0 726.2,172.5 740.0,187.3 747.5,193.5 760.0,206.0 769.0,213.0 777.0,215.3 787.5,213.8 797.5,212.5 805.0,206.2 812.5,195.0 822.5,185.0 830.0,183.0 836.2,183.8 842.5,188.8 850.0,190.0 860.0,186.2 868.8,177.5 876.2,175.0 882.5,177.5 892.5,183.8 902.5,188.8 915.0,200.0 925.0,206.2 932.5,208.0 940.0,206.2 950.0,199.0 960.0,186.2 972.5,172.5 985.0,168.0 992.5,167.0 1000.0,169.5 1008.8,171.2 1015.0,167.5 1023.8,160.0 1031.2,160.0 1038.8,165.0 1047.5,176.2 1057.5,185.0 1067.5,198.8 1077.5,208.8 1087.5,212.0 1096.2,211.2 1105.0,201.2 1117.5,185.0 1130.0,175.0 1140.0,171.8 1147.5,173.8 1155.0,177.5 1162.5,178.8 1170.0,176.2 1180.0,165.0 1186.2,164.2 1192.5,168.8 1202.5,178.8 1212.5,186.2 1225.0,197.5 1237.5,205.0 1247.5,208.8 1257.5,203.8 1272.5,191.2 1285.0,178.8 1295.0,173.5 1303.8,172.0 1312.5,176.2 1322.5,178.8 1330.0,175.0 1337.0,170.0 1343.8,172.0 1355.0,183.8 1367.5,193.8 1382.5,203.8 1392.5,205.0 1402.5,210.0 1413.8,210.8 1421.2,218.8 1427.5,218.8 1433.8,203.8 1440.0,198.8 1446.2,208.8 1452.5,185.0 1460.0,181.2 1466.2,182.5 1472.5,199.2 1478.8,190.5 1485.0,193.8 1492.0,172.5 1498.8,171.8 1505.0,175.0 1518.8,186.2 1526.2,189.5 1531.2,193.8 1537.5,203.8 1545.0,206.8 1556.2,209.2 1563.8,205.0 1575.0,195.0 1582.5,183.8 1601.2,163.8 1615.0,157.5 1627.5,162.0 1640.0,159.5 1647.5,153.8 1653.8,153.0 1660.0,161.2 1667.5,171.2 1675.0,177.5 1686.5,187.2"/>
</g>
<line x1="126" x2="135" y1="327.9" y2="327.9" stroke="#555555" stroke-width="2.2"/>
<text x="118.0" y="339.2" font-size="27.8" fill="#555555" text-anchor="end">0</text>
<line x1="126" x2="135" y1="263.7" y2="263.7" stroke="#555555" stroke-width="2.2"/>
<text x="118.0" y="275.0" font-size="27.8" fill="#555555" text-anchor="end">25</text>
<line x1="126" x2="135" y1="199.5" y2="199.5" stroke="#555555" stroke-width="2.2"/>
<text x="118.0" y="210.8" font-size="27.8" fill="#555555" text-anchor="end">50</text>
<line x1="126" x2="135" y1="135.3" y2="135.3" stroke="#555555" stroke-width="2.2"/>
<text x="118.0" y="146.6" font-size="27.8" fill="#555555" text-anchor="end">75</text>
<line x1="126" x2="135" y1="71.1" y2="71.1" stroke="#555555" stroke-width="2.2"/>
<text x="116.9" y="82.4" font-size="27.8" fill="#555555" text-anchor="end">100</text>
<line x1="135.8" x2="135.8" y1="330" y2="338.0" stroke="#555555" stroke-width="2.2"/>
<text x="137.0" y="369.0" font-size="27.8" fill="#555555" text-anchor="middle">24</text>
<line x1="292.1" x2="292.1" y1="330" y2="333.8" stroke="#555555" stroke-width="1.7"/>
<text x="292.1" y="364.6" font-size="27.8" fill="#555555" text-anchor="middle">25</text>
<line x1="448.0" x2="448.0" y1="330" y2="333.8" stroke="#555555" stroke-width="1.7"/>
<text x="448.0" y="364.6" font-size="27.8" fill="#555555" text-anchor="middle">26</text>
<line x1="603.3" x2="603.3" y1="330" y2="333.8" stroke="#555555" stroke-width="1.7"/>
<text x="603.3" y="364.6" font-size="27.8" fill="#555555" text-anchor="middle">27</text>
<line x1="759.0" x2="759.0" y1="330" y2="333.8" stroke="#555555" stroke-width="1.7"/>
<text x="759.0" y="364.6" font-size="27.8" fill="#555555" text-anchor="middle">28</text>
<line x1="914.6" x2="914.6" y1="330" y2="333.8" stroke="#555555" stroke-width="1.7"/>
<text x="914.6" y="364.6" font-size="27.8" fill="#555555" text-anchor="middle">29</text>
<line x1="1070.1" x2="1070.1" y1="330" y2="333.8" stroke="#555555" stroke-width="1.7"/>
<text x="1070.1" y="364.6" font-size="27.8" fill="#555555" text-anchor="middle">30</text>
<line x1="1225.7" x2="1225.7" y1="330" y2="333.8" stroke="#555555" stroke-width="1.7"/>
<text x="1224.4" y="364.6" font-size="27.8" fill="#555555" text-anchor="middle" letter-spacing="-1.3">31</text>
<line x1="1381.5" x2="1381.5" y1="330" y2="338.0" stroke="#555555" stroke-width="2.2"/>
<text x="1381.8" y="369.0" font-size="27.8" fill="#555555" text-anchor="middle" letter-spacing="-1.3">01</text>
<line x1="1536.9" x2="1536.9" y1="330" y2="333.8" stroke="#555555" stroke-width="1.7"/>
<text x="1537.2" y="364.6" font-size="27.8" fill="#555555" text-anchor="middle" letter-spacing="-1.3">02</text>
<line x1="1685.9" x2="1685.9" y1="330" y2="338" stroke="#555555" stroke-width="2.2"/>
<text x="1381.5" y="402.2" font-size="27.8" fill="#555555" text-anchor="middle">Jan</text>
<text x="1381.5" y="434" font-size="27.8" fill="#555555" text-anchor="middle">2026</text>
<text transform="translate(44.7,173.9) rotate(-90)" font-size="33.3" fill="#555555" text-anchor="middle">power [GW]</text>
<rect x="146.5" y="29.5" width="251" height="206.3" rx="5" ry="5" fill="#e5e5e5" fill-opacity="0.8" stroke="#cccccc" stroke-opacity="0.8" stroke-width="1.4"/>
<line x1="150.8" x2="196.2" y1="45.3" y2="45.3" stroke="#000" stroke-width="5.9"/>
<text x="208.2" y="52.9" font-size="19.44" fill="#000">today's demand</text>
<rect x="153.8" y="67.0" width="39.2" height="14.2" fill="#ff0000"/>
<text x="208.2" y="81.0" font-size="19.44" fill="#000">hydrogen turbine</text>
<rect x="153.8" y="95.7" width="39.2" height="14.2" fill="#999999"/>
<text x="208.2" y="109.7" font-size="19.44" fill="#000">battery discharger</text>
<rect x="153.8" y="124.5" width="39.2" height="14.2" fill="#ffff00"/>
<text x="208.2" y="138.5" font-size="19.44" fill="#000">solar PV</text>
<rect x="153.8" y="153.2" width="39.2" height="14.2" fill="#3b6182"/>
<text x="208.2" y="167.2" font-size="19.44" fill="#000">onshore wind</text>
<rect x="153.8" y="182.0" width="39.2" height="14.2" fill="#5d84a8"/>
<text x="208.2" y="196.0" font-size="19.44" fill="#000">offshore wind</text>
<rect x="153.8" y="210.8" width="39.2" height="14.2" fill="#008000"/>
<text x="208.2" y="224.8" font-size="19.44" fill="#000">hydroelectricity</text>
</svg>
</body></html>
